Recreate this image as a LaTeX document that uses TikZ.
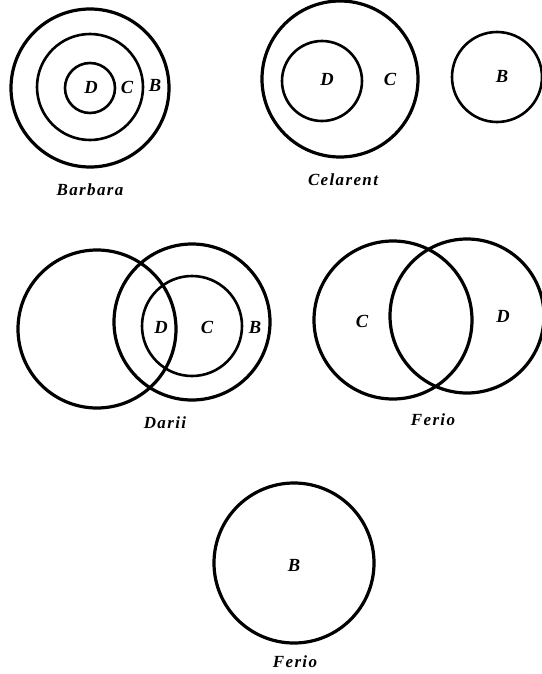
\documentclass[tikz,border=0pt]{standalone}
\usepackage{fontspec}
\setmainfont{Liberation Serif}
\begin{document}
\begin{tikzpicture}[x=1pt,y=-1pt,
  thick circ/.style={draw,line width=3.2pt},
  thin circ/.style={draw,line width=2.6pt},
  lab/.style={font=\fontsize{18.5}{20}\selectfont\bfseries\itshape,inner sep=0pt},
  captext/.style={font=\fontsize{17}{19}\selectfont\bfseries\itshape\addfontfeature{LetterSpace=8},inner sep=0pt}]
\useasboundingbox (0,0) rectangle (541,674);
% Barbara
\draw[thick circ] (90,88) circle (79);
\draw[thin circ] (90,87) circle (53);
\draw[thin circ] (90,88) circle (25);
\node[lab] (bD) at (91,87) {D};
\node[lab] (bC) at (127,87) {C};
\node[lab] (bB) at (155,85) {B};
\node[captext] (bcap) at (90,190) {Barbara};
% Celarent
\draw[thick circ] (340,79) circle (78);
\draw[thin circ] (322,81) circle (40);
\draw[thin circ] (497,77) circle (45);
\node[lab] (cD) at (327,79) {D};
\node[lab] (cC) at (390,79) {C};
\node[lab] (cB) at (502,76) {B};
\node[captext] (ccap) at (343,180) {Celarent};
% Darii
\draw[thick circ] (97,329) circle (79);
\draw[thick circ] (192,322) circle (78);
\draw[thin circ] (192,326) circle (50);
\node[lab] (dD) at (161,327) {D};
\node[lab] (dC) at (207,327) {C};
\node[lab] (dB) at (255,327) {B};
\node[captext] (dcap) at (165,423) {Darii};
% Ferio
\draw[thick circ] (393,320) circle (79);
\draw[thick circ] (467,316) circle (77);
\node[lab] (fC) at (362,321) {C};
\node[lab] (fD) at (503,316) {D};
\node[captext] (fcap) at (433,420) {Ferio};
% Ferio bottom
\draw[thick circ] (294,563) circle (80);
\node[lab] (gB) at (294,565) {B};
\node[captext] (gcap) at (295,662) {Ferio};
\end{tikzpicture}
\end{document}
